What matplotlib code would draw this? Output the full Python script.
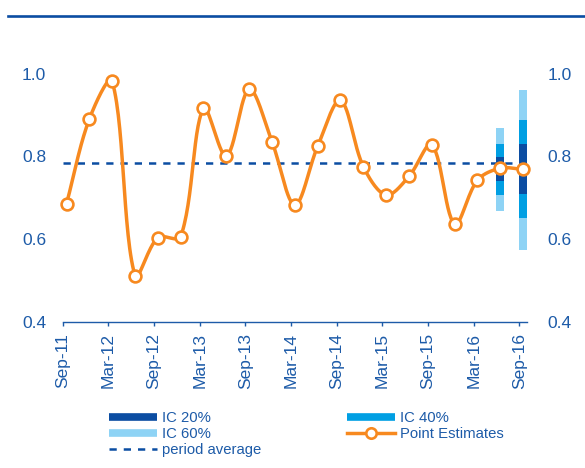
import numpy as np
import matplotlib
matplotlib.use("Agg")
import matplotlib.pyplot as plt
from matplotlib.lines import Line2D

# quarterly point estimates, Sep-11 .. Sep-16
quarters = ["Sep-11", "Dec-11", "Mar-12", "Jun-12", "Sep-12", "Dec-12", "Mar-13",
            "Jun-13", "Sep-13", "Dec-13", "Mar-14", "Jun-14", "Sep-14", "Dec-14",
            "Mar-15", "Jun-15", "Sep-15", "Dec-15", "Mar-16", "Jun-16", "Sep-16"]
estimates = [0.685, 0.890, 0.981, 0.511, 0.603, 0.605, 0.916, 0.800, 0.962, 0.835,
             0.682, 0.824, 0.935, 0.775, 0.706, 0.751, 0.828, 0.636, 0.742, 0.771, 0.768]
period_avg = 0.783

tick_labels = ["Sep-11", "Mar-12", "Sep-12", "Mar-13", "Sep-13", "Mar-14",
               "Sep-14", "Mar-15", "Sep-15", "Mar-16", "Sep-16"]

# confidence bands for the last two quarters (low, high)
band_quarters = ["Jun-16", "Sep-16"]
ic60 = [(0.668, 0.869), (0.572, 0.960)]
ic40 = [(0.706, 0.830), (0.651, 0.887)]
ic20 = [(0.739, 0.799), (0.709, 0.830)]

BLUE_TXT = "#1D5BA8"
DARK = "#0B4DA2"
MID = "#009FE3"
LIGHT = "#8ED3F5"
ORANGE = "#F7891F"


def smooth_line(x, y, sx=7.61, sy=413.3, n=30):
    """
    bezier smoothing like a spreadsheet "smoothed line": tangents are split
    by the neighbouring segment lengths (measured in pixels) so short
    segments do not overshoot much
    """
    P = np.column_stack([np.asarray(x, float) * sx, np.asarray(y, float) * sy])
    m = len(P)
    ctrl_out = np.zeros_like(P)
    ctrl_in = np.zeros_like(P)
    for i in range(m):
        prev_p = P[i - 1] if i > 0 else P[i]
        next_p = P[i + 1] if i < m - 1 else P[i]
        d_prev = np.hypot(*(P[i] - prev_p))
        d_next = np.hypot(*(next_p - P[i]))
        tot = d_prev + d_next
        T = next_p - prev_p
        if tot == 0:
            ctrl_out[i] = ctrl_in[i] = P[i]
            continue
        ctrl_out[i] = P[i] + T * (d_next / tot) / 3
        ctrl_in[i] = P[i] - T * (d_prev / tot) / 3
    t = np.linspace(0, 1, n)[:, None]
    pts = []
    for i in range(m - 1):
        a, b, c, d = P[i], ctrl_out[i], ctrl_in[i + 1], P[i + 1]
        pts.append((1 - t) ** 3 * a + 3 * (1 - t) ** 2 * t * b
                   + 3 * (1 - t) * t ** 2 * c + t ** 3 * d)
    pts = np.vstack(pts)
    return pts[:, 0] / sx, pts[:, 1] / sy


plt.rcParams['font.family'] = ['Liberation Sans', 'DejaVu Sans']

fig = plt.figure(figsize=(5.85, 4.68), dpi=100)
ax = fig.add_axes([0.1072, 0.3130, 0.7935, 0.5740])

# x in months from Sep-11; points sit half a month after the tick
pos = np.arange(len(quarters)) * 3 + 0.5
band_pos = [pos[quarters.index(q)] for q in band_quarters]

for bands, col in ((ic60, LIGHT), (ic40, MID), (ic20, DARK)):
    lo = [b[0] for b in bands]
    hi = [b[1] for b in bands]
    ax.bar(band_pos, np.array(hi) - np.array(lo), bottom=lo, width=1.05,
           color=col, zorder=2)

ax.hlines(period_avg, 0, 60, colors=DARK, linestyles=(0, (2.9, 2.8)),
          linewidth=1.8, zorder=3)

cx, cy = smooth_line(pos, estimates)
ax.plot(cx, cy, color=ORANGE, linewidth=2.5, zorder=4, clip_on=False)
ax.plot(pos, estimates, linestyle="none", marker="o", markersize=8.5,
        markerfacecolor="white", markeredgecolor=ORANGE, markeredgewidth=1.9,
        zorder=5, clip_on=False)

ax.set_xlim(0, 61)
ax.set_ylim(0.4, 1.05)
ax.set_xticks(np.arange(0, 61, 6))
ax.set_xticklabels(tick_labels, rotation=90, fontsize=12.5, color=BLUE_TXT)
ax.set_yticks([0.4, 0.6, 0.8, 1.0])
ax.set_yticklabels(["0.4", "0.6", "0.8", "1.0"], fontsize=12.5, color=BLUE_TXT)
ax.tick_params(axis="x", direction="out", length=3, width=1, color=BLUE_TXT, pad=5)
ax.tick_params(axis="y", length=0, pad=12)

for s in ("top", "right", "left"):
    ax.spines[s].set_visible(False)
ax.spines["bottom"].set_color(BLUE_TXT)
ax.spines["bottom"].set_linewidth(1.0)

ax2 = ax.twinx()
ax2.set_ylim(ax.get_ylim())
ax2.set_yticks([0.4, 0.6, 0.8, 1.0])
ax2.set_yticklabels(["0.4", "0.6", "0.8", "1.0"], fontsize=12.5, color=BLUE_TXT)
ax2.tick_params(axis="y", length=0, pad=15)
for s in ax2.spines.values():
    s.set_visible(False)

handles = [
    Line2D([], [], color=DARK, linewidth=5.5, solid_capstyle="butt"),
    Line2D([], [], color=LIGHT, linewidth=5.5, solid_capstyle="butt"),
    Line2D([], [], color=DARK, linewidth=1.8, linestyle=(0, (2.9, 2.8))),
    Line2D([], [], color=MID, linewidth=5.5, solid_capstyle="butt"),
    Line2D([], [], color=ORANGE, linewidth=2.5, marker="o", markersize=7.5,
           markerfacecolor="white", markeredgecolor=ORANGE, markeredgewidth=1.9),
]
labels = ["IC 20%", "IC 60%", "period average", "IC 40%", "Point Estimates"]
leg = fig.legend(handles, labels, ncol=2, loc="upper left",
                 bbox_to_anchor=(109 / 585, 1 - 411 / 468), frameon=False,
                 fontsize=10.7, handlelength=3.2, handletextpad=0.34,
                 columnspacing=5.8, labelspacing=0.15, borderpad=0, borderaxespad=0)
for t in leg.get_texts():
    t.set_color(BLUE_TXT)

# rule across the top of the panel
fig.add_artist(Line2D([8 / 585, 1], [1 - 15.5 / 468, 1 - 15.5 / 468],
                      color=DARK, linewidth=1.9, transform=fig.transFigure))

fig.savefig("out.png", dpi=100)
